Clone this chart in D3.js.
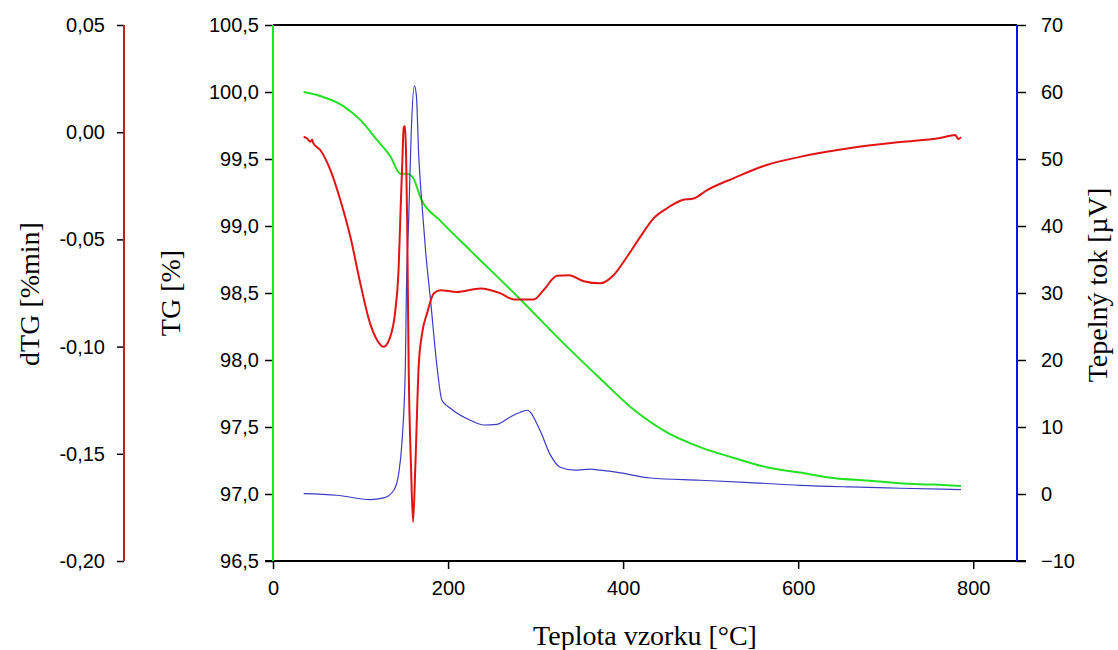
<!DOCTYPE html>
<html lang="cs">
<head>
  <meta charset="UTF-8">
  <title>TG / dTG / DTA</title>
  <style>
    body { margin: 0; background: #fff; }
    .tick text { font-family: 'Liberation Sans', Arial, sans-serif; font-size: 20px; fill: #000; }
    .tick line { stroke: #000; stroke-width: 1.5; }
    .title { font-family: 'Liberation Serif', 'Times New Roman', serif; font-size: 28px; fill: #000; }
  </style>
  <script src="https://d3js.org/d3.v7.min.js"></script>
</head>
<body>
  <svg id="chart" width="1118" height="650"></svg>

  <script>
    // TG curve (green) - temperature [°C] and mass [%]
    const tgTemp = [35, 54, 79, 100, 119, 134, 145.5, 153, 159, 170, 191, 225, 283, 328, 374, 412, 450, 488, 526, 564, 602, 640, 679, 716, 755, 786];
    const tgVal  = [100.0, 99.97, 99.90, 99.79, 99.64, 99.52, 99.39, 99.39, 99.37, 99.19, 99.04, 98.82, 98.45, 98.15, 97.86, 97.63, 97.46, 97.35, 97.27, 97.20, 97.16, 97.12, 97.10, 97.08, 97.07, 97.06];

    // dTG curve (red) - [%/min]
    const dtgTemp = [35, 39, 42.7, 44.7, 46, 54, 65.6, 77, 88.4, 99.8, 111, 119, 126.4, 133.3, 139.8, 143.6, 145.5, 147.8, 149.3, 150.7, 152, 153.2, 155, 157.7, 160, 162.6, 166.4, 170.3, 176, 183.6, 191, 210, 237, 260, 275, 298, 309, 324.5, 338, 355, 374, 389, 404.5, 419.6, 434.8, 450, 467, 480.5, 496, 526, 564, 602, 660, 717, 762, 779.5, 783, 786];
    const dtgVal  = [-0.0021, -0.0029, -0.0045, -0.0034, -0.0051, -0.0083, -0.0177, -0.0317, -0.0488, -0.0706, -0.0893, -0.0970, -0.1001, -0.0962, -0.0830, -0.0628, -0.0395, -0.0130, 0.0019, 0.0029, -0.0097, -0.0395, -0.1095, -0.1561, -0.1818, -0.1561, -0.1095, -0.0939, -0.0845, -0.0752, -0.0737, -0.0745, -0.0729, -0.0752, -0.0780, -0.0780, -0.0737, -0.0670, -0.0667, -0.0695, -0.0705, -0.0667, -0.0581, -0.0488, -0.0402, -0.0355, -0.0317, -0.0309, -0.0270, -0.0215, -0.0153, -0.0115, -0.0074, -0.0046, -0.0027, -0.0013, -0.0032, -0.0023];

    // heat flow (blue) - [µV]
    const dtaTemp = [35, 73, 111, 126.4, 138, 143.6, 147.5, 151.2, 152.4, 155, 158, 161.5, 163.8, 166.4, 170, 174.5, 180, 187.4, 193, 202.6, 225.5, 240.7, 256, 271, 282.6, 290.6, 305, 317, 328, 345, 362.6, 374, 397, 431, 488, 545, 602, 660, 717, 786];
    const dtaVal  = [0.06, -0.19, -0.83, -0.59, 0.56, 3.05, 8.0, 19.0, 30.2, 40.9, 54.3, 60.9, 59.5, 50.8, 43.5, 36, 28.9, 19.0, 14.0, 12.8, 11.0, 10.3, 10.4, 11.5, 12.2, 12.5, 9.5, 5.8, 4.0, 3.55, 3.7, 3.55, 3.14, 2.39, 2.05, 1.70, 1.30, 1.05, 0.86, 0.66];

    const xTicks   = [0, 200, 400, 600, 800];
    const tgTicks  = [96.5, 97.0, 97.5, 98.0, 98.5, 99.0, 99.5, 100.0, 100.5];
    const dtgTicks = [-0.20, -0.15, -0.10, -0.05, 0.00, 0.05];
    const dtaTicks = [-10, 0, 10, 20, 30, 40, 50, 60, 70];

    const cz = d3.formatLocale({decimal: ",", thousands: " ", grouping: [3], currency: ["", ""], minus: "-"});

    const plotL = 273, plotR = 1017, plotT = 25, plotB = 561;
    const dtgAxisX = 124;

    const svg = d3.select("#chart");

    const x = d3.scaleLinear().domain([0, 850]).range([plotL, plotR]);
    const yTG = d3.scaleLinear().domain([96.5, 100.5]).range([plotB, plotT]);
    const yDTG = d3.scaleLinear().domain([-0.20, 0.05]).range([plotB, plotT]);
    const yDTA = d3.scaleLinear().domain([-10, 70]).range([plotB, plotT]);

    // curves
    const zip = (a, b) => a.map((t, i) => [t, b[i]]);

    svg.append("path")
      .datum(zip(tgTemp, tgVal))
      .attr("fill", "none").attr("stroke", "#22e022").attr("stroke-width", 2)
      .attr("d", d3.line().x(d => x(d[0])).y(d => yTG(d[1])).curve(d3.curveMonotoneX));

    svg.append("path")
      .datum(zip(dtaTemp, dtaVal))
      .attr("fill", "none").attr("stroke", "#3b3bc4").attr("stroke-width", 1.2)
      .attr("d", d3.line().x(d => x(d[0])).y(d => yDTA(d[1])).curve(d3.curveMonotoneX));

    svg.append("path")
      .datum(zip(dtgTemp, dtgVal))
      .attr("fill", "none").attr("stroke", "#e01414").attr("stroke-width", 2)
      .attr("d", d3.line().x(d => x(d[0])).y(d => yDTG(d[1])).curve(d3.curveMonotoneX));

    // axes
    const xAxis = svg.append("g")
      .attr("transform", `translate(0,${plotB})`)
      .call(d3.axisBottom(x).tickValues(xTicks).tickSize(8).tickSizeOuter(0).tickPadding(12).tickFormat(d3.format("d")));
    xAxis.select(".domain").remove();

    const tgAxis = svg.append("g")
      .attr("transform", `translate(${plotL},0)`)
      .call(d3.axisLeft(yTG).tickValues(tgTicks).tickSize(8).tickSizeOuter(0).tickPadding(6).tickFormat(cz.format(".1f")));
    tgAxis.select(".domain").remove();

    const dtgAxis = svg.append("g")
      .attr("transform", `translate(${dtgAxisX},0)`)
      .call(d3.axisLeft(yDTG).tickValues(dtgTicks).tickSize(7).tickSizeOuter(0).tickPadding(12).tickFormat(cz.format(".2f")));
    dtgAxis.select(".domain").remove();

    const dtaAxis = svg.append("g")
      .attr("transform", `translate(${plotR},0)`)
      .call(d3.axisRight(yDTA).tickValues(dtaTicks).tickSize(9).tickSizeOuter(0).tickPadding(15).tickFormat(d3.format("d")));
    dtaAxis.select(".domain").remove();

    // frame lines
    svg.append("line").attr("x1", plotL).attr("x2", plotR).attr("y1", plotT).attr("y2", plotT)
      .attr("stroke", "#000").attr("stroke-width", 2);
    svg.append("line").attr("x1", plotL - 8).attr("x2", plotR + 9).attr("y1", plotB).attr("y2", plotB)
      .attr("stroke", "#000").attr("stroke-width", 2);
    svg.append("line").attr("x1", plotL).attr("x2", plotL).attr("y1", plotT).attr("y2", plotB)
      .attr("stroke", "#11ee11").attr("stroke-width", 2);
    svg.append("line").attr("x1", plotR).attr("x2", plotR).attr("y1", plotT).attr("y2", plotB)
      .attr("stroke", "#1010ee").attr("stroke-width", 2);
    svg.append("line").attr("x1", dtgAxisX).attr("x2", dtgAxisX).attr("y1", plotT).attr("y2", plotB)
      .attr("stroke", "#b82222").attr("stroke-width", 2);

    // titles
    svg.append("text").attr("class", "title")
      .attr("x", 645).attr("y", 645).attr("text-anchor", "middle")
      .text("Teplota vzorku [°C]");
    svg.append("text").attr("class", "title")
      .attr("transform", "translate(39,294) rotate(-90)").attr("text-anchor", "middle")
      .text("dTG [%min]");
    svg.append("text").attr("class", "title")
      .attr("transform", "translate(180,293) rotate(-90)").attr("text-anchor", "middle")
      .text("TG [%]");
    svg.append("text").attr("class", "title")
      .attr("transform", "translate(1107,285) rotate(-90)").attr("text-anchor", "middle")
      .text("Tepelný tok [µV]");
  </script>
</body>
</html>
